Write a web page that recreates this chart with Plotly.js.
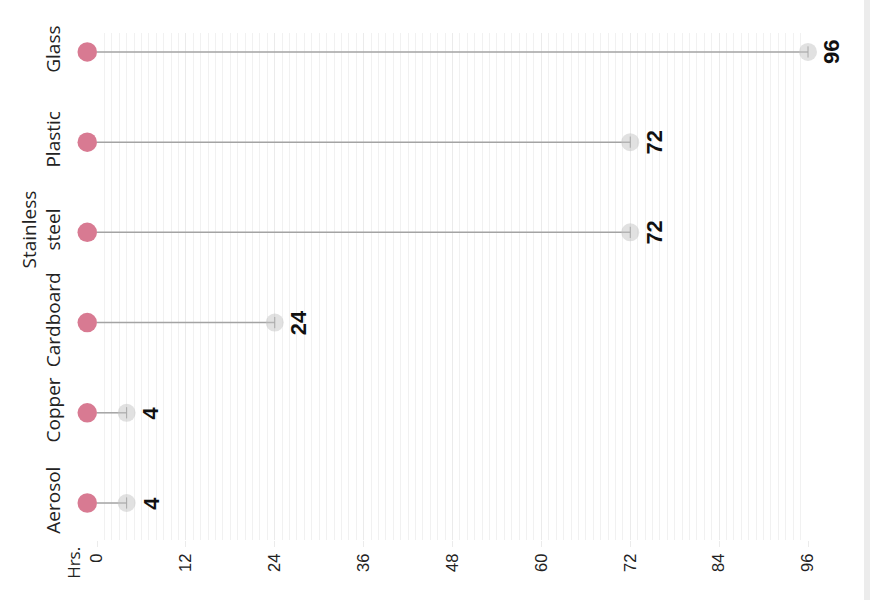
<!DOCTYPE html>
<html>
<head>
<meta charset="utf-8">
<script src="https://cdn.plot.ly/plotly-3.0.1.min.js"></script>
<style>html,body{margin:0;padding:0;background:#fff;}#chart{width:870px;height:600px;}</style>
</head>
<body>
<div id="chart"></div>
<script>
// Data
const categories = ['Aerosol', 'Copper', 'Cardboard', 'Stainless steel', 'Plastic', 'Glass'];
const categoryLabels = ['Aerosol', 'Copper', 'Cardboard', 'Stainless<br>steel', 'Plastic', 'Glass'];
const startHours = [0, 0, 0, 0, 0, 0];
const hours = [4, 4, 24, 72, 72, 96];
const xTickVals = [0, 12, 24, 36, 48, 60, 72, 84, 96];
const xTickText = ['0', '12', '24', '36', '48', '60', '72', '84', '96'];

const pink = '#d87a92';

// connector lines
const lineX = [], lineY = [];
categories.forEach((c, i) => {
  lineX.push(startHours[i], hours[i], null);
  lineY.push(c, c, null);
});

const traces = [
  {
    type: 'scatter', mode: 'lines', x: lineX, y: lineY,
    line: {color: '#a3a3a3', width: 1.5}, hoverinfo: 'skip', cliponaxis: false, showlegend: false
  },
  {
    type: 'scatter', mode: 'markers', x: hours, y: categories,
    marker: {size: 18, color: 'rgba(196,196,196,0.5)', line: {width: 0}},
    cliponaxis: false, showlegend: false
  },
  {
    type: 'scatter', mode: 'markers', x: hours, y: categories,
    marker: {symbol: 'line-ns', size: 8, line: {color: '#a8a8a8', width: 1}},
    cliponaxis: false, showlegend: false, hoverinfo: 'skip'
  }
];

// start dots, drawn just left of the start value
const shapes = categories.map((c, i) => ({
  type: 'circle', xref: 'paper', yref: 'y',
  xsizemode: 'pixel', ysizemode: 'pixel',
  xanchor: 0, yanchor: c,
  x0: -19.5, x1: 0, y0: -9.75, y1: 9.75,
  fillcolor: pink, line: {width: 0}, layer: 'above'
}));
shapes.push({
  type: 'rect', xref: 'paper', yref: 'paper',
  x0: 1.0788, x1: 1.1, y0: -0.2, y1: 1.1,
  fillcolor: '#ececec', line: {width: 0}
});

const annotations = categories.map((c, i) => ({
  x: hours[i], y: c, xref: 'x', yref: 'y',
  text: String(hours[i]), showarrow: false, textangle: -90,
  xshift: 24, xanchor: 'center', yanchor: 'middle',
  font: {family: 'Liberation Sans, Arial, sans-serif', size: 22, color: '#111', weight: 'bold'}
}));
annotations.push({
  xref: 'paper', yref: 'paper', x: -0.033, y: -0.046,
  text: 'Hrs.', showarrow: false, textangle: -90,
  xanchor: 'center', yanchor: 'middle',
  font: {family: 'Open Sans, sans-serif', size: 17, color: '#222'}
});

const layout = {
  width: 870, height: 600,
  margin: {l: 97, r: 62, t: 33, b: 60},
  paper_bgcolor: '#ffffff', plot_bgcolor: '#ffffff',
  showlegend: false,
  xaxis: {
    range: [0, 96], tickvals: xTickVals, ticktext: xTickText,
    tickangle: -90, showgrid: true, gridcolor: '#ebebeb', gridwidth: 1,
    ticks: 'outside', ticklen: 6, tickcolor: '#ebebeb',
    minor: {dtick: 1, showgrid: true, gridcolor: '#f1f1f1', gridwidth: 1},
    zeroline: false, showline: false, fixedrange: true,
    tickfont: {family: 'Liberation Sans, Arial, sans-serif', size: 16.5, color: '#222'}
  },
  yaxis: {
    type: 'category', categoryorder: 'array', categoryarray: categories,
    tickvals: categories, ticktext: categoryLabels,
    range: [-0.41, 5.21], tickangle: -90,
    showgrid: false, zeroline: false, showline: false, ticks: '',
    ticklabelstandoff: 32,
    tickfont: {family: 'Open Sans, sans-serif', size: 19, color: '#222'}
  },
  shapes: shapes,
  annotations: annotations
};

Plotly.newPlot('chart', traces, layout, {displayModeBar: false, staticPlot: true});
</script>
</body>
</html>
